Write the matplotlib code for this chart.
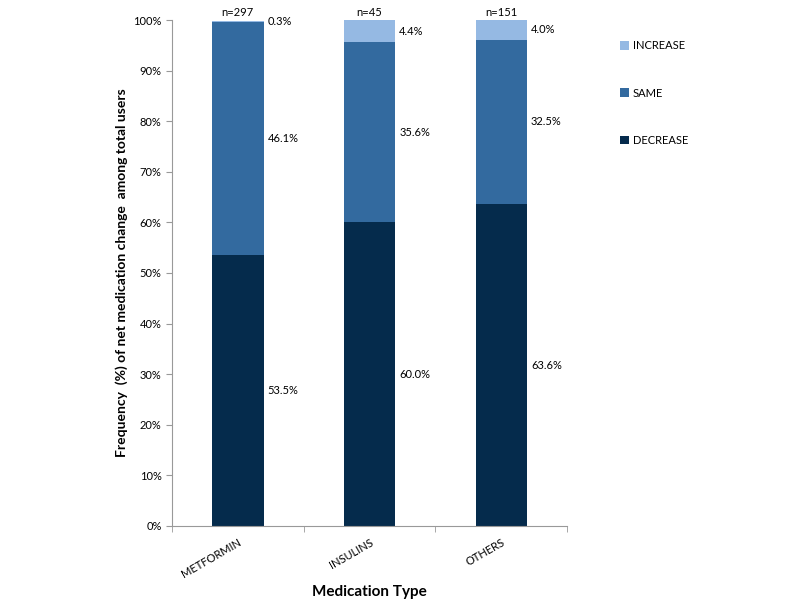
import matplotlib.pyplot as plt
import numpy as np

plt.rcParams['font.family'] = ['Lato', 'DejaVu Sans']

categories = ['METFORMIN', 'INSULINS', 'OTHERS']
n_labels = ['n=297', 'n=45', 'n=151']
decrease = [53.5, 60.0, 63.6]
same = [46.1, 35.6, 32.5]
increase = [0.3, 4.4, 4.0]

colors = {'INCREASE': '#95b9e3', 'SAME': '#336a9f', 'DECREASE': '#052b4c'}

fig = plt.figure(figsize=(8, 6.08), dpi=100)
ax = fig.add_axes([0.215, 0.135, 0.494, 0.832])

x = np.arange(len(categories))
w = 0.39
b1 = ax.bar(x, decrease, w, color=colors['DECREASE'], label='DECREASE')
b2 = ax.bar(x, same, w, bottom=decrease, color=colors['SAME'], label='SAME')
bottom3 = np.array(decrease) + np.array(same)
b3 = ax.bar(x, increase, w, bottom=bottom3, color=colors['INCREASE'], label='INCREASE')

# value labels right of each segment
for i in range(len(categories)):
    segs = [(0, decrease[i]), (decrease[i], same[i]), (bottom3[i], increase[i])]
    for base, h in segs:
        ax.text(x[i] + w / 2 + 0.03, base + h / 2, f'{h:.1f}%', fontsize=8,
                va='center', ha='left')
    ax.text(x[i], 100.4, n_labels[i], fontsize=8, ha='center', va='bottom')

ax.set_xlim(-0.5, 2.5)
ax.set_ylim(0, 100)
ax.set_yticks(np.arange(0, 101, 10))
ax.set_yticklabels([f'{v}%' for v in range(0, 101, 10)], fontsize=8)
ax.set_xticks(x)
ax.set_xticklabels(categories, rotation=30, ha='right', rotation_mode='anchor', fontsize=8)
ax.set_xticks([-0.5, 0.5, 1.5, 2.5], minor=True)
ax.tick_params(axis='x', which='major', length=0, pad=8)
ax.tick_params(axis='x', which='minor', length=4, color='#999999')
ax.tick_params(axis='y', length=4, color='#999999')

for s in ['top', 'right']:
    ax.spines[s].set_visible(False)
for s in ['left', 'bottom']:
    ax.spines[s].set_color('#999999')

ax.set_ylabel('Frequency  (%) of net medication change  among total users',
              fontsize=10, fontweight='bold', labelpad=4)
ax.set_xlabel('Medication Type', fontsize=11, fontweight='bold')
ax.xaxis.set_label_coords(0.5, -0.13)
ax.xaxis.label.set_va('center')

handles = [b3, b2, b1]
fig.legend(handles, ['INCREASE', 'SAME', 'DECREASE'], loc='upper left',
           bbox_to_anchor=(0.763, 0.95), frameon=False, fontsize=8,
           handlelength=0.8, handleheight=0.8, handletextpad=0.3,
           labelspacing=3.25)

fig.savefig('out.png', dpi=100)
